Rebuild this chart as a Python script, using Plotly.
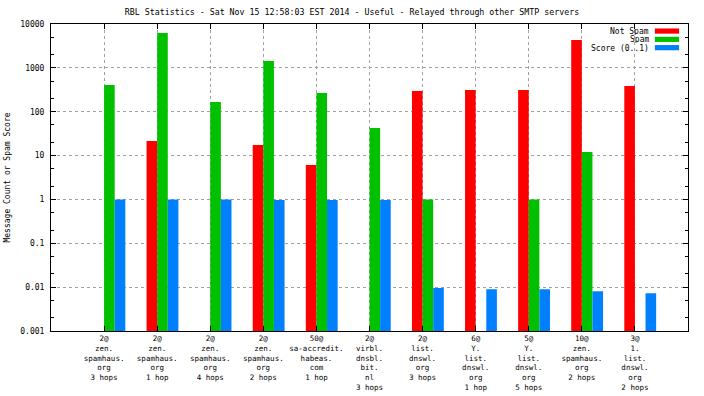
import plotly.graph_objects as go

categories = [
    "2@<br>zen.<br>spamhaus.<br>org<br>3 hops",
    "2@<br>zen.<br>spamhaus.<br>org<br>1 hop",
    "2@<br>zen.<br>spamhaus.<br>org<br>4 hops",
    "2@<br>zen.<br>spamhaus.<br>org<br>2 hops",
    "50@<br>sa-accredit.<br>habeas.<br>com<br>1 hop",
    "2@<br>virbl.<br>dnsbl.<br>bit.<br>nl<br>3 hops",
    "2@<br>list.<br>dnswl.<br>org<br>3 hops",
    "6@<br>Y.<br>list.<br>dnswl.<br>org<br>1 hop",
    "5@<br>Y.<br>list.<br>dnswl.<br>org<br>5 hops",
    "10@<br>zen.<br>spamhaus.<br>org<br>2 hops",
    "3@<br>1.<br>list.<br>dnswl.<br>org<br>2 hops",
]
positions = list(range(1, len(categories) + 1))
not_spam = [None, 21.5, None, 17.4, 6.1, None, 297, 312, 312, 4310, 385]
spam = [406, 6240, 167, 1432, 267, 42.5, 1, None, 1, 12.1, None]
score = [1.0, 1.0, 1.0, 0.97, 0.97, 0.97, 0.0095, 0.009, 0.009, 0.0081, 0.0073]

series_names = ["Not Spam", "Spam", "Score (0..1)"]
series_colors = ["#ff0000", "#00c000", "#0080ff"]

y_tickvals = [0.001, 0.01, 0.1, 1, 10, 100, 1000, 10000]
y_ticktext = ["0.001", "0.01", "0.1", "1", "10", "100", "1000", "10000"]
minor_vals = [m * v for v in y_tickvals[:-1] for m in (2, 5)]

FONT = "DejaVu Sans Mono"
W = 0.2

fig = go.Figure()
for i, (name, vals) in enumerate(zip(series_names, [not_spam, spam, score])):
    fig.add_trace(go.Bar(
        name=name, x=positions, y=vals, width=W, offset=(i - 1) * W,
        marker=dict(color=series_colors[i], line=dict(width=0)),
        showlegend=False,
    ))

# gnuplot-style legend: right-aligned text with a colour swatch to its right
step = 8.3 / 307.0
for i, (name, color) in enumerate(zip(series_names, series_colors)):
    yc = 0.977 - i * step
    fig.add_annotation(
        xref="x domain", yref="y domain", x=0.940, y=yc,
        xanchor="right", yanchor="middle", text=name, showarrow=False,
        font=dict(family=FONT, size=8, color="black"), height=8,
        borderpad=0, valign="middle",
    )
    fig.add_shape(
        type="rect", xref="x domain", yref="y domain",
        x0=0.948, x1=0.986, y0=yc - 0.0085, y1=yc + 0.0085,
        fillcolor=color, line=dict(width=0),
    )

fig.update_layout(
    width=704, height=396,
    paper_bgcolor="white", plot_bgcolor="white",
    barmode="overlay",
    margin=dict(l=51, r=16, t=24, b=65),
    font=dict(family=FONT, size=8, color="black"),
    title=dict(
        text="RBL Statistics - Sat Nov 15 12:58:03 EST 2014 - Useful - Relayed through other SMTP servers",
        x=0.5, xanchor="center", y=0.97, yanchor="middle", yref="container",
        font=dict(family=FONT, size=8.3, color="black"),
        automargin=False,
    ),
    showlegend=False,
)
fig.update_xaxes(
    range=[0, 12], tickmode="array", tickvals=positions, ticktext=categories,
    tickangle=0, automargin=False,
    showline=True, linecolor="black", linewidth=1, mirror="ticks",
    ticks="inside", ticklen=5, tickcolor="black",
    showgrid=True, gridcolor="#a0a0a0", griddash="3px,3px", gridwidth=1,
    zeroline=False, tickfont=dict(family=FONT, size=7.5),
)
fig.update_yaxes(
    type="log", range=[-3, 4], tickmode="array", automargin=False,
    tickvals=y_tickvals, ticktext=y_ticktext, ticklabelstandoff=4,
    showline=True, linecolor="black", linewidth=1, mirror="ticks",
    ticks="inside", ticklen=5, tickcolor="black",
    showgrid=True, gridcolor="#a0a0a0", griddash="3px,3px", gridwidth=1,
    zeroline=False, tickfont=dict(family=FONT, size=8),
    minor=dict(tickvals=minor_vals, ticks="inside", ticklen=3, tickcolor="black", showgrid=False),
    title=dict(text="Message Count or Spam Score", font=dict(family=FONT, size=8), standoff=8),
)

fig.write_html(
    "out.html",
    config={"displayModeBar": False, "staticPlot": True},
    post_script="document.body.style.margin='0px';",
)
